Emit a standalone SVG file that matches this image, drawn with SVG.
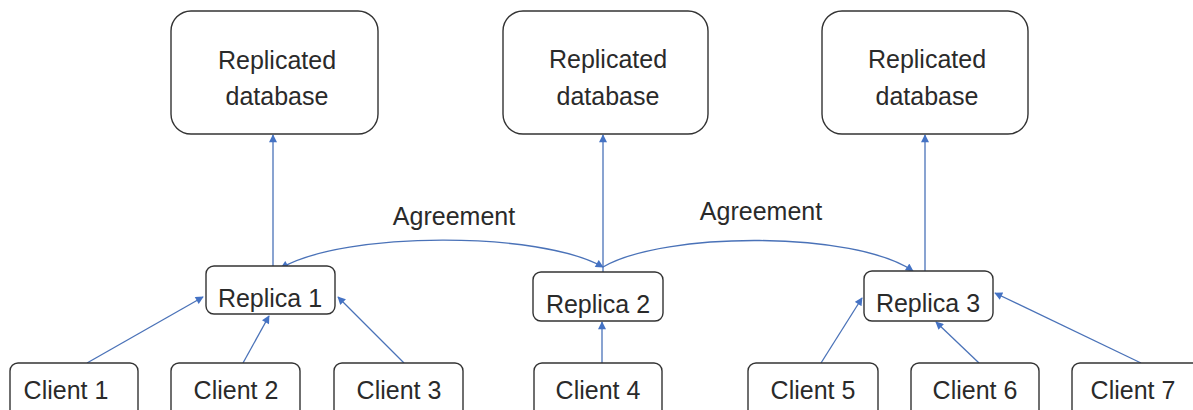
<svg xmlns="http://www.w3.org/2000/svg" width="1193" height="410" viewBox="0 0 1193 410">
<style>
.box{fill:#fff;stroke:#333;stroke-width:1.4}
.t{font-family:"Liberation Sans",Arial,sans-serif;font-size:25px;fill:#2a2a2a;text-anchor:middle}
.c{fill:none;stroke:#4a72b8;stroke-width:1.3}
</style>
<defs>
<marker id="ah" viewBox="0 0 10 10" refX="9" refY="5" markerWidth="9" markerHeight="8" markerUnits="userSpaceOnUse" orient="auto-start-reverse">
<path d="M0,0 L10,5 L0,10 z" fill="#4472c4"/>
</marker>
</defs>
<rect width="1193" height="410" fill="#fff"/>
<g id="connectors">
<path class="c" d="M273,266 V135" marker-end="url(#ah)"/>
<path class="c" d="M603,272 V135" marker-end="url(#ah)"/>
<path class="c" d="M925,271 V135" marker-end="url(#ah)"/>
<path class="c" d="M603,267 C540,231 345,231 281,268" marker-start="url(#ah)" marker-end="url(#ah)"/>
<path class="c" d="M603,267 C665,231 855,231 913,271" marker-end="url(#ah)"/>
<path class="c" d="M87,363 L203,297" marker-end="url(#ah)"/>
<path class="c" d="M243,363 L269,316" marker-end="url(#ah)"/>
<path class="c" d="M404,363 L338,297" marker-end="url(#ah)"/>
<path class="c" d="M602,363 V322" marker-end="url(#ah)"/>
<path class="c" d="M821,363 L862,298" marker-end="url(#ah)"/>
<path class="c" d="M979,363 L936,322" marker-end="url(#ah)"/>
<path class="c" d="M1141,363 L995,293" marker-end="url(#ah)"/>
<text class="t" x="454" y="225">Agreement</text>
<text class="t" x="761" y="220">Agreement</text>
</g>
<g id="db1"><rect class="box" x="171" y="11" width="207" height="123" rx="20"/><text class="t" x="277" y="69">Replicated</text><text class="t" x="277" y="105">database</text></g>
<g id="db2"><rect class="box" x="503" y="11" width="205" height="123" rx="20"/><text class="t" x="608" y="68">Replicated</text><text class="t" x="608" y="105">database</text></g>
<g id="db3"><rect class="box" x="822" y="11" width="206" height="123" rx="20"/><text class="t" x="927" y="68">Replicated</text><text class="t" x="927" y="105">database</text></g>
<g id="replica1"><rect class="box" x="206" y="266" width="129" height="48" rx="8"/><text class="t" x="270" y="307">Replica 1</text></g>
<g id="replica2"><rect class="box" x="533" y="272" width="130" height="49" rx="8"/><text class="t" x="598" y="313">Replica 2</text></g>
<g id="replica3"><rect class="box" x="864" y="271" width="129" height="50" rx="8"/><text class="t" x="928" y="312">Replica 3</text></g>
<g id="client1"><rect class="box" x="10" y="363" width="128" height="60" rx="8"/><text class="t" x="66" y="399">Client 1</text></g>
<g id="client2"><rect class="box" x="171" y="363" width="129" height="60" rx="8"/><text class="t" x="236" y="399">Client 2</text></g>
<g id="client3"><rect class="box" x="334" y="363" width="129" height="60" rx="8"/><text class="t" x="399" y="399">Client 3</text></g>
<g id="client4"><rect class="box" x="534" y="363" width="128" height="60" rx="8"/><text class="t" x="598" y="399">Client 4</text></g>
<g id="client5"><rect class="box" x="748" y="363" width="130" height="60" rx="8"/><text class="t" x="813" y="399">Client 5</text></g>
<g id="client6"><rect class="box" x="911" y="363" width="128" height="60" rx="8"/><text class="t" x="975" y="399">Client 6</text></g>
<g id="client7"><rect class="box" x="1072" y="363" width="130" height="60" rx="8"/><text class="t" x="1133" y="399">Client 7</text></g>
</svg>
